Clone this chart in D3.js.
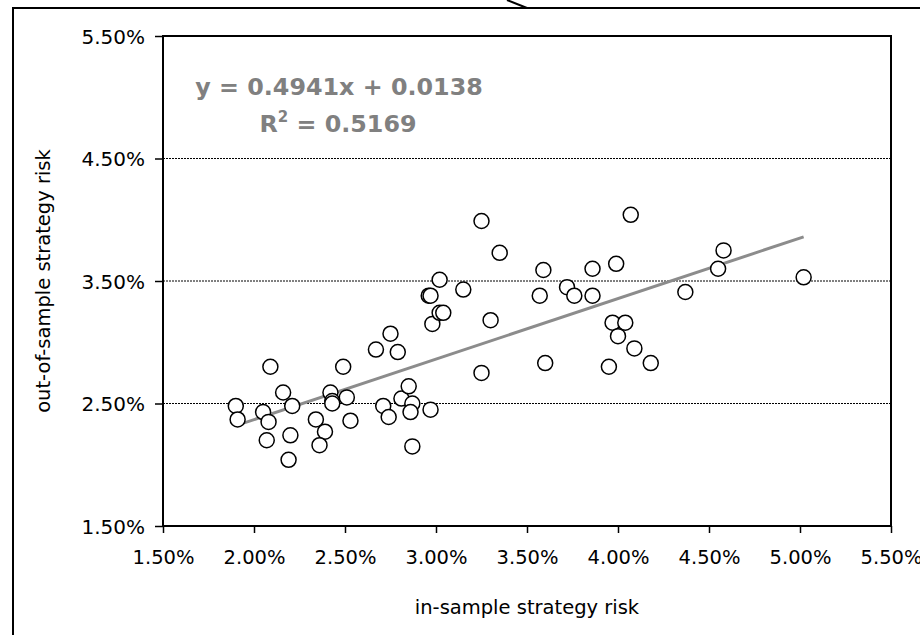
<!DOCTYPE html>
<html>
<head>
<meta charset="utf-8">
<script src="https://cdn.jsdelivr.net/npm/d3@7"></script>
<style>
body { margin: 0; background: #fff; }
text { font-family: "DejaVu Sans", Verdana, sans-serif; }
</style>
</head>
<body>
<svg></svg>
<script>
// in-sample vs out-of-sample strategy risk, in percent
var inSample = [1.90, 1.91, 2.05, 2.08, 2.09, 2.07, 2.16, 2.21, 2.20, 2.19,
    2.34, 2.39, 2.36, 2.42, 2.43, 2.43, 2.51, 2.49, 2.53, 2.67,
    2.75, 2.79, 2.71, 2.74, 2.81, 2.85, 2.87, 2.86, 2.97, 2.87,
    2.98, 2.96, 2.97, 3.02, 3.02, 3.04, 3.15, 3.25, 3.35, 3.30,
    3.25, 3.59, 3.57, 3.72, 3.76, 3.86, 3.86, 3.99, 4.07, 3.60,
    3.95, 3.97, 4.04, 4.00, 4.09, 4.18, 4.37, 4.58, 4.55, 5.02];
var outSample = [2.48, 2.37, 2.43, 2.35, 2.80, 2.20, 2.59, 2.48, 2.24, 2.04,
    2.37, 2.27, 2.16, 2.59, 2.52, 2.50, 2.55, 2.80, 2.36, 2.94,
    3.07, 2.92, 2.48, 2.39, 2.54, 2.64, 2.50, 2.43, 2.45, 2.15,
    3.15, 3.38, 3.38, 3.51, 3.24, 3.24, 3.43, 3.99, 3.73, 3.18,
    2.75, 3.59, 3.38, 3.45, 3.38, 3.60, 3.38, 3.64, 4.04, 2.83,
    2.80, 3.16, 3.16, 3.05, 2.95, 2.83, 3.41, 3.75, 3.60, 3.53];

var xTicks = [1.5, 2.0, 2.5, 3.0, 3.5, 4.0, 4.5, 5.0, 5.5];
var yTicks = [1.5, 2.5, 3.5, 4.5, 5.5];
var gridLines = [2.5, 3.5, 4.5];

var trendSlope = 0.4941, trendIntercept = 1.38;   // intercept 0.0138 as percent
var eqLine = "y = 0.4941x + 0.0138";
var r2Value = "0.5169";

var svgWidth = 920, svgHeight = 635;
var plotLeft = 163, plotRight = 891, plotTop = 36, plotBottom = 526;

var svg = d3.select("svg")
    .attr("width", svgWidth)
    .attr("height", svgHeight);

svg.append("rect")
    .attr("width", "100%")
    .attr("height", "100%")
    .attr("fill", "white");

// outer chart frame (runs off the right and bottom edge)
svg.append("rect")
    .attr("x", 13).attr("y", 8)
    .attr("width", 1000).attr("height", 800)
    .attr("fill", "none")
    .style("stroke", "black")
    .style("stroke-width", "2");

svg.append("line")
    .attr("x1", 507).attr("y1", 0)
    .attr("x2", 527).attr("y2", 8)
    .style("stroke", "black")
    .style("stroke-width", "2");

var xScale = d3.scaleLinear().domain([1.5, 5.5]).range([plotLeft, plotRight]);
var yScale = d3.scaleLinear().domain([1.5, 5.5]).range([plotBottom, plotTop]);

var pct = function (d) { return d.toFixed(2) + "%"; };

// gridlines
svg.append("g")
    .selectAll("line")
    .data(gridLines)
    .enter().append("line")
    .attr("x1", plotLeft).attr("x2", plotRight)
    .attr("y1", function (d) { return yScale(d); })
    .attr("y2", function (d) { return yScale(d); })
    .style("stroke", "black")
    .style("stroke-width", "1")
    .style("stroke-dasharray", "2,1");

var x_axis = d3.axisBottom(xScale).tickValues(xTicks).tickSize(7).tickFormat(pct);
var y_axis = d3.axisLeft(yScale).tickValues(yTicks).tickSize(8).tickFormat(pct);

var gx = svg.append("g")
    .attr("transform", "translate(0," + plotBottom + ")")
    .call(x_axis);
gx.select(".domain").remove();
gx.selectAll("line").style("stroke", "black").style("stroke-width", "1.5");
gx.selectAll("text")
    .attr("y", 38).attr("dy", 0)
    .attr("fill", "black")
    .style("font-size", "19.5px");

var gy = svg.append("g")
    .attr("transform", "translate(" + plotLeft + ",0)")
    .call(y_axis);
gy.select(".domain").remove();
gy.selectAll("line").style("stroke", "black").style("stroke-width", "1.5");
gy.selectAll("text")
    .attr("x", -18).attr("dy", "0.36em")
    .attr("fill", "black")
    .style("font-size", "20px");

// plot area border
svg.append("rect")
    .attr("x", plotLeft).attr("y", plotTop)
    .attr("width", plotRight - plotLeft).attr("height", plotBottom - plotTop)
    .attr("fill", "none")
    .style("stroke", "black")
    .style("stroke-width", "2");

// trendline
var xMin = d3.min(inSample), xMax = d3.max(inSample);
svg.append("line")
    .attr("x1", xScale(xMin))
    .attr("y1", yScale(trendSlope * xMin + trendIntercept))
    .attr("x2", xScale(xMax))
    .attr("y2", yScale(trendSlope * xMax + trendIntercept))
    .style("stroke", "#8c8c8c")
    .style("stroke-width", "3");

// points
svg.append("g")
    .selectAll("circle")
    .data(inSample)
    .enter().append("circle")
    .attr("cx", function (d) { return xScale(d); })
    .attr("cy", function (d, i) { return yScale(outSample[i]); })
    .attr("r", 7.5)
    .attr("fill", "white")
    .style("stroke", "black")
    .style("stroke-width", "1.5");

// equation
svg.append("text")
    .attr("x", 339).attr("y", 95)
    .attr("text-anchor", "middle")
    .attr("fill", "#808080")
    .style("font-size", "23.8px")
    .style("font-weight", "bold")
    .text(eqLine);

var r2 = svg.append("text")
    .attr("x", 338).attr("y", 132)
    .attr("text-anchor", "middle")
    .attr("fill", "#808080")
    .style("font-size", "23.8px")
    .style("font-weight", "bold");
r2.append("tspan").text("R");
r2.append("tspan").attr("dy", -10).style("font-size", "15px").text("2");
r2.append("tspan").attr("dy", 10).text(" = " + r2Value);

// axis titles
svg.append("text")
    .attr("x", (plotLeft + plotRight) / 2).attr("y", 614)
    .attr("text-anchor", "middle")
    .attr("fill", "black")
    .style("font-size", "19.5px")
    .text("in-sample strategy risk");

svg.append("text")
    .attr("transform", "translate(50," + (plotTop + plotBottom) / 2 + ") rotate(-90)")
    .attr("text-anchor", "middle")
    .attr("fill", "black")
    .style("font-size", "19.5px")
    .text("out-of-sample strategy risk");
</script>
</body>
</html>
